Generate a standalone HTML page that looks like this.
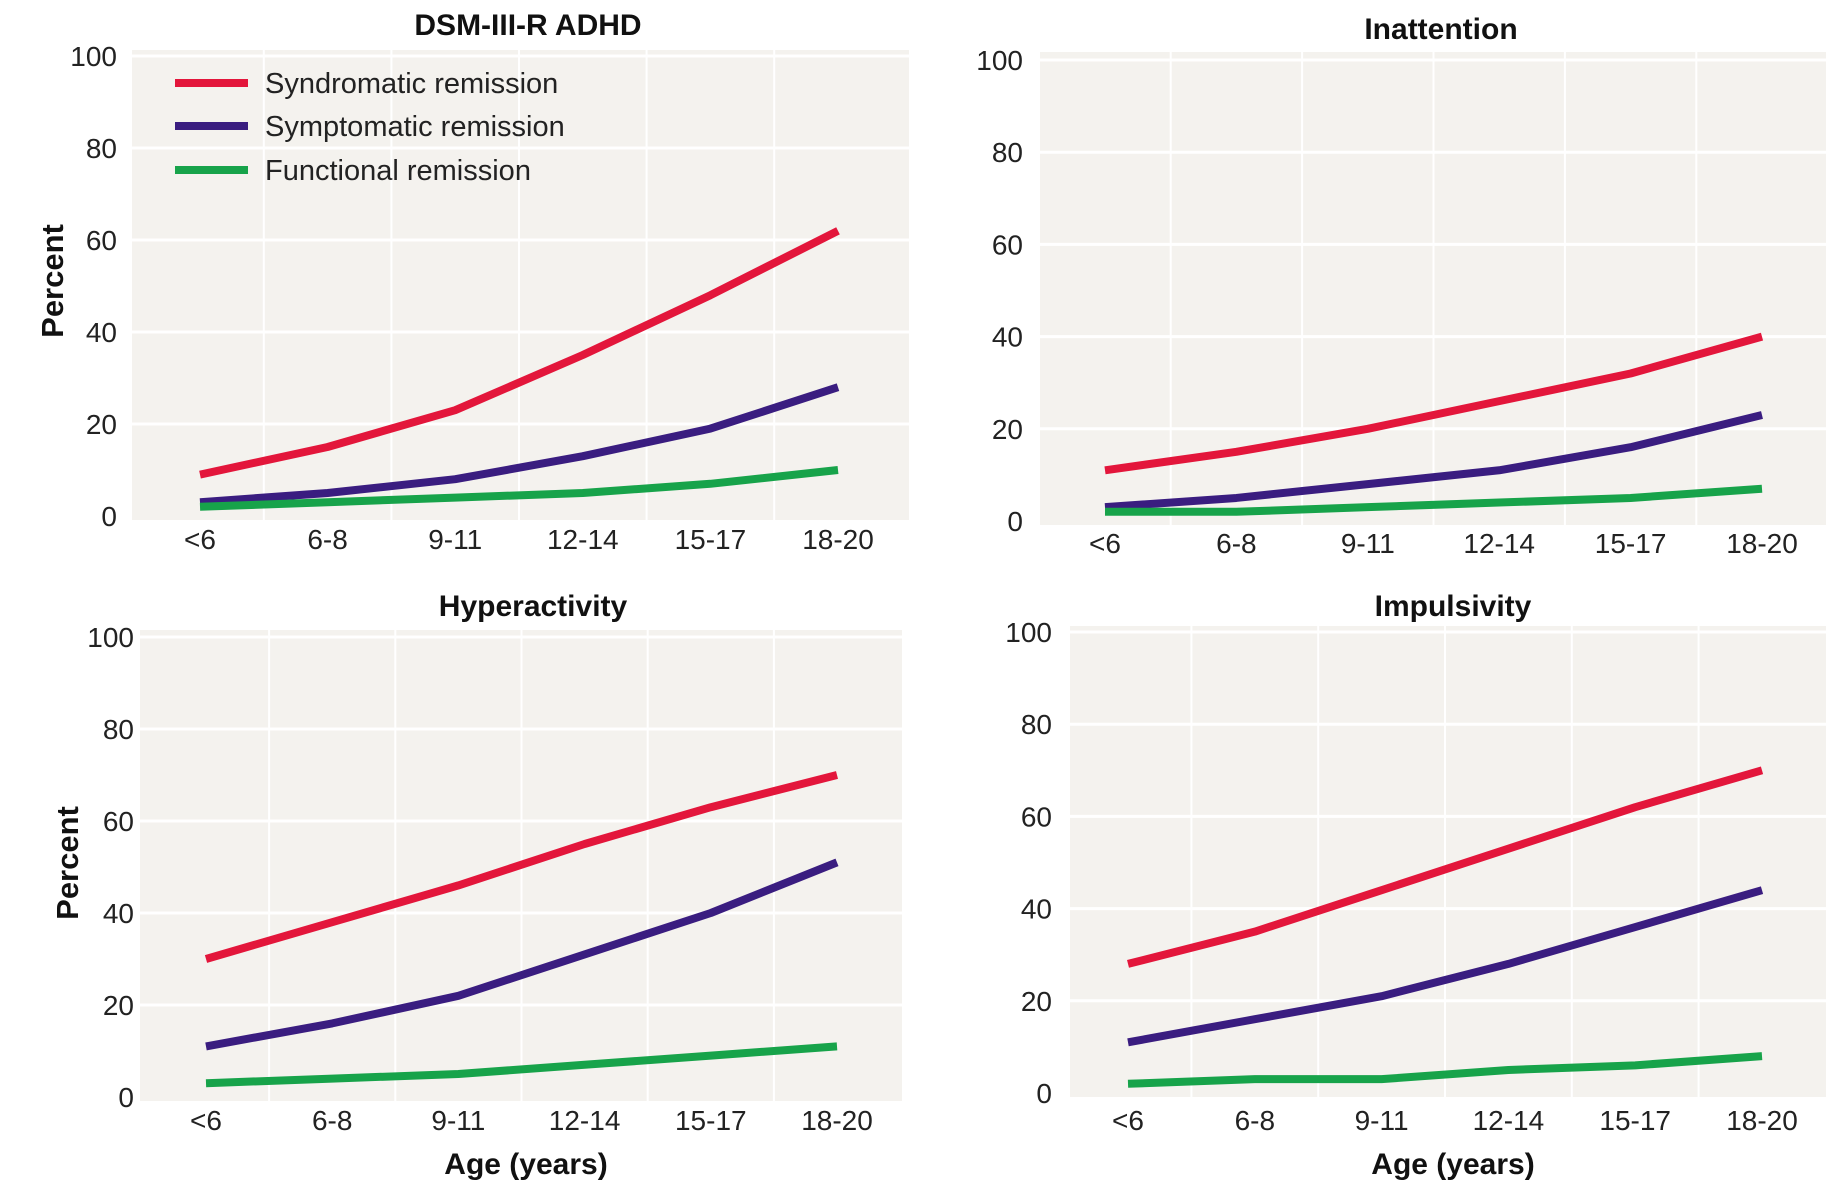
<!DOCTYPE html>
<html><head><meta charset="utf-8"><style>
html,body{margin:0;padding:0;background:#fff;}
svg{display:block;font-family:"Liberation Sans",sans-serif;}
</style></head><body>
<svg id="chart" width="1833" height="1180" viewBox="0 0 1833 1180" xmlns="http://www.w3.org/2000/svg"></svg>
<script>
const categories = ["<6","6-8","9-11","12-14","15-17","18-20"];
const yTicks = [0,20,40,60,80,100];
const seriesNames = ["Syndromatic remission","Symptomatic remission","Functional remission"];
const adhdSyndromatic = [9,15,23,35,48,62];
const adhdSymptomatic = [3,5,8,13,19,28];
const adhdFunctional = [2,3,4,5,7,10];
const inattSyndromatic = [11,15,20,26,32,40];
const inattSymptomatic = [3,5,8,11,16,23];
const inattFunctional = [2,2,3,4,5,7];
const hyperSyndromatic = [30,38,46,55,63,70];
const hyperSymptomatic = [11,16,22,31,40,51];
const hyperFunctional = [3,4,5,7,9,11];
const impulsSyndromatic = [28,35,44,53,62,70];
const impulsSymptomatic = [11,16,21,28,36,44];
const impulsFunctional = [2,3,3,5,6,8];

const colors = ["#e3163b","#3a1d80","#17a34a"];
const NS = "http://www.w3.org/2000/svg";
const svg = document.getElementById("chart");
function mk(tag, attrs, parent){const e=document.createElementNS(NS,tag);for(const k in attrs)e.setAttribute(k,attrs[k]);(parent||svg).appendChild(e);return e;}

const panels = [
 {id:"adhd", title:"DSM-III-R ADHD", tx:528, ty:35, left:132, right:909, top:50, y0:516, y100:56, x0:200, x1:838, tickRight:117, xly:539, ylab:{x:53,y:281}, xlab:null, legend:true, data:[adhdSyndromatic,adhdSymptomatic,adhdFunctional]},
 {id:"inattention", title:"Inattention", tx:1441, ty:39, left:1040, right:1826, top:52, y0:521, y100:60, x0:1105, x1:1762, tickRight:1023, xly:543, ylab:null, xlab:null, data:[inattSyndromatic,inattSymptomatic,inattFunctional]},
 {id:"hyperactivity", title:"Hyperactivity", tx:533, ty:616, left:140, right:902, top:630, y0:1097, y100:637, x0:206, x1:837, tickRight:134, xly:1120, ylab:{x:68,y:863}, xlab:{x:526,y:1174}, data:[hyperSyndromatic,hyperSymptomatic,hyperFunctional]},
 {id:"impulsivity", title:"Impulsivity", tx:1453, ty:616, left:1070, right:1826, top:626, y0:1093, y100:632, x0:1128, x1:1762, tickRight:1052, xly:1120, ylab:null, xlab:{x:1453,y:1174}, data:[impulsSyndromatic,impulsSymptomatic,impulsFunctional]}
];

panels.forEach(p=>{
  const g = mk("g",{});
  
  
  const yS = v => p.y0 + (p.y100-p.y0)*v/100;
  const step = (p.x1-p.x0)/(categories.length-1);
  const xS = i => p.x0 + step*i;
  const bg = mk("rect",{x:p.left,y:p.top,width:p.right-p.left,height:p.y0+4-p.top,fill:"#f4f2ee"},g);
  
  
  yTicks.forEach(t=>{
    if(t>0){const gl=mk("line",{x1:p.left,x2:p.right,y1:yS(t),y2:yS(t),stroke:"#fff","stroke-width":3},g);
    
    }
    const tl=mk("text",{x:p.tickRight,y:yS(t)+10,"text-anchor":"end","font-size":28,fill:"#222"},g);
    tl.textContent=t;
    
    
  });
  for(let i=0;i<categories.length-1;i++){
    const gx=xS(i+0.5);
    const gl=mk("line",{x1:gx,x2:gx,y1:p.top,y2:p.y0+4,stroke:"#fff","stroke-width":2},g);
    
    
  }
  categories.forEach((c,i)=>{
    const tl=mk("text",{x:xS(i),y:p.xly+10,"text-anchor":"middle","font-size":28,fill:"#222"},g);
    tl.textContent=c;
    
    
  });
  p.data.forEach((vals,si)=>{
    const pts=vals.map((v,i)=>xS(i)+","+yS(v)).join(" ");
    const pl=mk("polyline",{points:pts,fill:"none",stroke:colors[si],"stroke-width":8,"stroke-linejoin":"round"},g);
    
    
  });
  const tt=mk("text",{x:p.tx,y:p.ty,"text-anchor":"middle","font-size":30,"font-weight":"bold",fill:"#111"},g);
  tt.textContent=p.title;
  
  
  if(p.ylab){
    const yl=mk("text",{x:0,y:0,"text-anchor":"middle","font-size":31,"font-weight":"bold",fill:"#111",transform:`translate(${p.ylab.x+10},${p.ylab.y}) rotate(-90)`},g);
    yl.textContent="Percent";
    
    
  }
  if(p.xlab){
    const xl=mk("text",{x:p.xlab.x,y:p.xlab.y,"text-anchor":"middle","font-size":30,"font-weight":"bold",fill:"#111"},g);
    xl.textContent="Age (years)";
    
    
  }
  if(p.legend){
    const ly=[83,126,170];
    seriesNames.forEach((n,si)=>{
      const le=mk("g",{},g);
      
      
      mk("line",{x1:175,x2:248,y1:ly[si],y2:ly[si],stroke:colors[si],"stroke-width":8},le);
      const t=mk("text",{x:265,y:ly[si]+10,"font-size":29,fill:"#222"},le);
      t.textContent=n;
    });
  }
});
</script>
</body></html>
